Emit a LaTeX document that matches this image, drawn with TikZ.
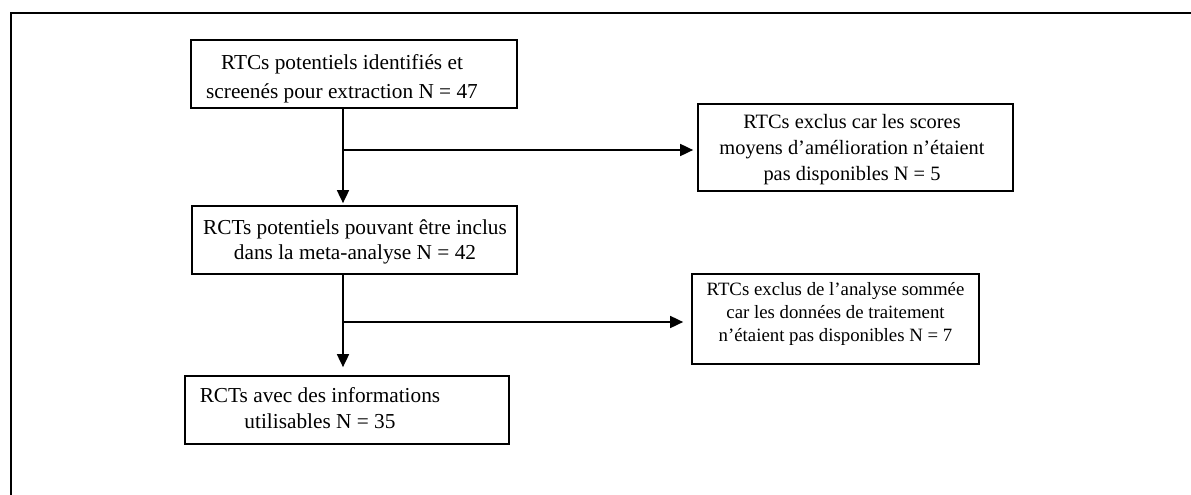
\documentclass[tikz,border=0pt]{standalone}
\usepackage{fontspec}
\setmainfont{Liberation Serif}
\usetikzlibrary{arrows.meta}
\begin{document}
\begin{tikzpicture}[x=1pt,y=-1pt,
  box/.style={draw,line width=1.7pt,minimum width=#1,inner sep=0pt},
  txt/.style={anchor=base,inner sep=0pt,font=\fontsize{21.3}{25}\selectfont},
  txtm/.style={anchor=base,inner sep=0pt,font=\fontsize{20.4}{25}\selectfont},
  txts/.style={anchor=base,inner sep=0pt,font=\fontsize{18.8}{23}\selectfont},
  arr/.style={line width=1.7pt,-{Triangle[length=13pt,width=12pt]}}]
\useasboundingbox (0,0) rectangle (1191,495);
\draw[line width=2.8pt] (1191,13) -- (11,13) -- (11,495);
% box 1
\node[box=326pt,minimum height=68pt] (b1) at (354,74) {};
\node[txt] (t1a) at (342,70) {RTCs potentiels identifiés et};
\node[txt] (t1b) at (342,98.5) {screenés pour extraction N = 47};
% box 2
\node[box=325pt,minimum height=68pt] (b2) at (354.5,240) {};
\node[txt] (t2a) at (355,234) {RCTs potentiels pouvant être inclus};
\node[txt] (t2b) at (355,259) {dans la meta-analyse N = 42};
% box 3
\node[box=315pt,minimum height=87pt] (b3) at (855.5,147.5) {};
\node[txtm] (t3a) at (852,128.5) {RTCs exclus car les scores};
\node[txtm] (t3b) at (852,154.5) {moyens d’amélioration n’étaient};
\node[txtm] (t3c) at (852,180.5) {pas disponibles N = 5};
% box 4
\node[box=287pt,minimum height=90pt] (b4) at (835.5,319) {};
\node[txts] (t4a) at (835.5,295) {RTCs exclus de l’analyse sommée};
\node[txts] (t4b) at (835.5,318.3) {car les données de traitement};
\node[txts] (t4c) at (835.5,341.7) {n’étaient pas disponibles N = 7};
% box 5
\node[box=324pt,minimum height=68pt] (b5) at (347,410) {};
\node[txt] (t5a) at (320,402.5) {RCTs avec des informations};
\node[txt] (t5b) at (320,428.5) {utilisables N = 35};
% junctions
\coordinate (j1) at (343,150);
\coordinate (j2) at (343,322);
\draw[arr] (b1.south -| j1) -- ([yshift=2pt]b2.north -| j1);
\draw[arr] (j1) -- ([xshift=-4pt]b3.west |- j1);
\draw[arr] (b2.south -| j2) -- ([yshift=8pt]b5.north -| j2);
\draw[arr] (j2) -- ([xshift=-8pt]b4.west |- j2);
\end{tikzpicture}
\end{document}
